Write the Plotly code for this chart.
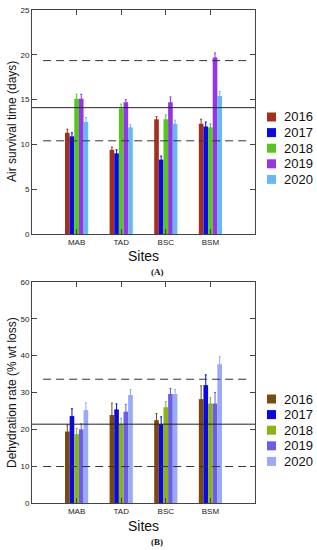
import plotly.graph_objects as go

sites = ["MAB", "TAD", "BSC", "BSM"]
years = ["2016", "2017", "2018", "2019", "2020"]

# Panel A: Air survival time (days)
surv = {
    "2016": [11.3, 9.4, 12.8, 12.3],
    "2017": [10.9, 9.0, 8.3, 12.0],
    "2018": [15.1, 14.0, 12.8, 11.9],
    "2019": [15.1, 14.7, 14.7, 19.7],
    "2020": [12.5, 11.9, 12.3, 15.4],
}
surv_err = {
    "2016": [0.4, 0.3, 0.3, 0.5],
    "2017": [0.4, 0.4, 0.4, 0.5],
    "2018": [0.5, 0.5, 0.5, 0.4],
    "2019": [0.5, 0.3, 0.6, 0.5],
    "2020": [0.5, 0.3, 0.4, 0.5],
}
# Panel B: Dehydration rate (% wt loss)
dehy = {
    "2016": [19.4, 23.9, 22.5, 28.2],
    "2017": [23.6, 25.4, 21.4, 32.0],
    "2018": [18.7, 21.5, 26.0, 27.0],
    "2019": [20.0, 24.8, 29.6, 27.0],
    "2020": [25.2, 29.3, 29.6, 37.7],
}
dehy_err = {
    "2016": [1.8, 3.2, 1.8, 3.6],
    "2017": [2.0, 1.5, 2.0, 2.8],
    "2018": [1.5, 1.5, 1.5, 1.6],
    "2019": [1.5, 2.0, 1.5, 3.0],
    "2020": [2.0, 1.5, 1.2, 2.0],
}
lines_a = {"upper": 19.35, "mean": 14.1, "lower": 10.4}
lines_b = {"upper": 33.6, "mean": 21.4, "lower": 9.9}

colors_a = ["#A3301C", "#0A0AE6", "#55C81A", "#9436E8", "#66B8F8"]
colors_b = ["#7A4A0C", "#0A0AE0", "#8AB414", "#6B5CEA", "#98AAF8"]

W, H = 317, 550
ML, MR, MT, MB = 32, 62, 10, 47
PW, PH = W - ML - MR, H - MT - MB


def px(xp):
    return (xp - ML) / PW


def py(yp):
    return (H - MB - yp) / PH


fig = go.Figure()
for i, y in enumerate(years):
    fig.add_trace(go.Bar(
        x=sites, y=surv[y], name=y, xaxis="x", yaxis="y", showlegend=False,
        marker=dict(color=colors_a[i], line=dict(width=0)),
        error_y=dict(type="data", array=surv_err[y], color=colors_a[i],
                     thickness=1, width=1),
    ))
for i, y in enumerate(years):
    fig.add_trace(go.Bar(
        x=sites, y=dehy[y], name=y, xaxis="x2", yaxis="y2", showlegend=False,
        marker=dict(color=colors_b[i], line=dict(width=0)),
        error_y=dict(type="data", array=dehy_err[y], color=colors_b[i],
                     thickness=1, width=1),
    ))

shapes = []
for yref, vals in (("y", lines_a), ("y2", lines_b)):
    xref = "x domain" if yref == "y" else "x2 domain"
    shapes.append(dict(type="line", xref=xref, yref=yref, x0=0.05, x1=0.97,
                       y0=vals["upper"], y1=vals["upper"],
                       line=dict(color="#333", width=1, dash="8px,5px")))
    shapes.append(dict(type="line", xref=xref, yref=yref, x0=0, x1=1,
                       y0=vals["mean"], y1=vals["mean"],
                       line=dict(color="#222", width=1)))
    shapes.append(dict(type="line", xref=xref, yref=yref, x0=0.05, x1=0.97,
                       y0=vals["lower"], y1=vals["lower"],
                       line=dict(color="#333", width=1, dash="8px,5px")))

annotations = []
# manual legends (compact spacing as in reference)
for top, cols in ((117, colors_a), (399, colors_b)):
    for i, y in enumerate(years):
        cy = top + i * 15.6
        shapes.append(dict(type="rect", xref="paper", yref="paper",
                           x0=px(267), x1=px(276), y0=py(cy - 4.5), y1=py(cy + 4.5),
                           fillcolor=cols[i], line=dict(width=0)))
        annotations.append(dict(text=y, xref="paper", yref="paper", x=px(282), y=py(cy),
                                xanchor="left", yanchor="middle", showarrow=False,
                                font=dict(family="Arial", size=13, color="#111")))

# axis titles
annotations += [
    dict(text="Sites", xref="paper", yref="paper", x=px(143), y=py(256),
         xanchor="center", yanchor="middle", showarrow=False,
         font=dict(family="Arial", size=14, color="#111")),
    dict(text="Sites", xref="paper", yref="paper", x=px(143), y=py(526),
         xanchor="center", yanchor="middle", showarrow=False,
         font=dict(family="Arial", size=14, color="#111")),
    dict(text="Air survival time (days)", xref="paper", yref="paper", x=px(12), y=py(122),
         xanchor="center", yanchor="middle", showarrow=False, textangle=-90,
         font=dict(family="Arial", size=12, color="#111")),
    dict(text="Dehydration rate (% wt loss)", xref="paper", yref="paper", x=px(12), y=py(393),
         xanchor="center", yanchor="middle", showarrow=False, textangle=-90,
         font=dict(family="Arial", size=12, color="#111")),
    dict(text="<b>(A)</b>", xref="paper", yref="paper", x=px(157), y=py(272),
         xanchor="center", yanchor="middle", showarrow=False,
         font=dict(family="Times New Roman, Liberation Serif", size=9, color="#111")),
    dict(text="<b>(B)</b>", xref="paper", yref="paper", x=px(157), y=py(542),
         xanchor="center", yanchor="middle", showarrow=False,
         font=dict(family="Times New Roman, Liberation Serif", size=9, color="#111")),
]

axis_common = dict(showline=True, linecolor="#444", linewidth=1, mirror="ticks",
                   ticks="inside", ticklen=5, tickcolor="#444", automargin=False,
                   tickfont=dict(family="Arial", size=8, color="#222"),
                   showgrid=False, zeroline=False)

fig.update_layout(
    width=W, height=H,
    margin=dict(l=ML, r=MR, t=MT, b=MB),
    paper_bgcolor="white", plot_bgcolor="white",
    barmode="group", bargap=0.48, bargroupgap=0,
    font=dict(family="Arial", color="#222"),
    showlegend=False,
    shapes=shapes,
    annotations=annotations,
    xaxis=dict(domain=[0, 1], anchor="y", range=[-1, 4], **axis_common),
    yaxis=dict(domain=[py(234), 1], anchor="x", range=[0, 25], dtick=5, **axis_common),
    xaxis2=dict(domain=[0, 1], anchor="y2", range=[-1, 4], **axis_common),
    yaxis2=dict(domain=[0, py(282)], anchor="x2", range=[0, 60], dtick=10, **axis_common),
)

fig.write_html(
    "out.html",
    config={"displayModeBar": False},
    post_script="document.body.style.margin='0px';document.body.style.overflow='hidden';",
)
